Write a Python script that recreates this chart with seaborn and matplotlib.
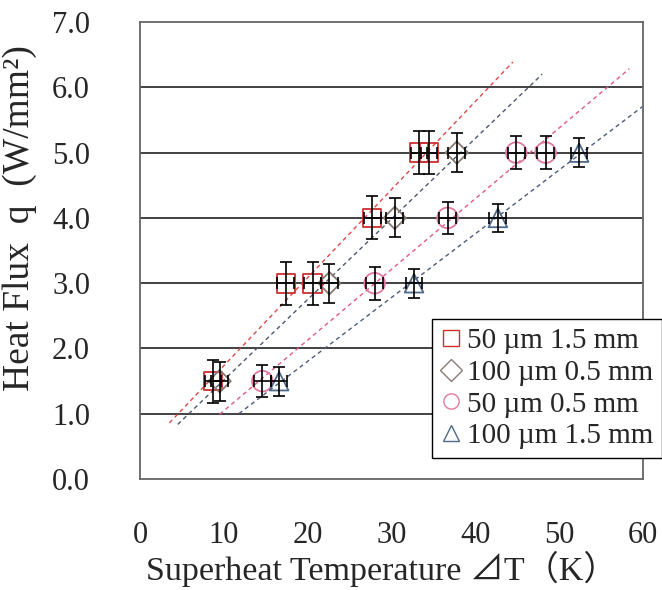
import numpy as np
import pandas as pd
import matplotlib
matplotlib.use("Agg")
import matplotlib.pyplot as plt
from matplotlib.lines import Line2D
import seaborn as sns

# data
labels = ["50 \u00b5m 1.5 mm", "100 \u00b5m 0.5 mm", "50 \u00b5m 0.5 mm", "100 \u00b5m 1.5 mm"]
markers = ["s", "D", "o", "^"]
marker_colors = ["#cc3030", "#8a7a72", "#e07aa2", "#4f6a88"]
trend_colors = ["#e04848", "#4c566e", "#e05a82", "#4c5c7a"]

sq_dt = [8.7, 17.4, 20.6, 27.7, 33.3, 34.5]
sq_q = [1.5, 3.0, 3.0, 4.0, 5.0, 5.0]
di_dt = [9.5, 22.6, 30.4, 37.8]
di_q = [1.5, 3.0, 4.0, 5.0]
ci_dt = [14.6, 28.0, 36.7, 44.9, 48.4]
ci_q = [1.5, 3.0, 4.0, 5.0, 5.0]
tr_dt = [16.6, 32.7, 42.7, 52.4]
tr_q = [1.5, 3.0, 4.0, 5.0]

q_err = [0.33, 0.30, 0.25, 0.22]
dt_err = [1.0, 1.0, 1.0, 1.0]
# x-extent of each dashed trend line
trend_range = [(3.5, 44.5), (4.5, 48.0), (9.5, 58.4), (11.8, 60.0)]

x_ticks = [0, 10, 20, 30, 40, 50, 60]
y_ticks = [0, 1, 2, 3, 4, 5, 6, 7]

series_x = [sq_dt, di_dt, ci_dt, tr_dt]
series_y = [sq_q, di_q, ci_q, tr_q]
marker_sizes = [180, 130, 220, 180]

sns.set_style("white")
plt.rcParams["font.family"] = ["Liberation Serif", "Noto Sans CJK JP"]

fig = plt.figure(figsize=(6.62, 5.9), dpi=100)
ax = fig.add_axes([0.2115, 0.188, 0.7595, 0.7747])

for i in range(4):
    x = np.array(series_x[i])
    y = np.array(series_y[i])
    slope, icpt = np.polyfit(x, y, 1)
    lo, hi = trend_range[i]
    tx = np.array([lo, hi])
    sns.lineplot(x=tx, y=slope * tx + icpt, ax=ax, color=trend_colors[i],
                 linestyle=(0, (3, 2.5)), linewidth=1.0, zorder=2)

for i in range(4):
    df = pd.DataFrame({"dt": series_x[i], "q": series_y[i]})
    sns.scatterplot(data=df, x="dt", y="q", ax=ax, marker=markers[i],
                    s=marker_sizes[i], color=marker_colors[i], linewidth=1.3,
                    zorder=3)
    coll = ax.collections[-1]
    coll.set_facecolor("none")
    coll.set_edgecolor(marker_colors[i])
    ax.errorbar(series_x[i], series_y[i], yerr=q_err[i], xerr=dt_err[i],
                fmt="none", ecolor="black", elinewidth=1.2, capsize=4,
                capthick=1.2, zorder=4)

ax.set_xlim(0, 60)
ax.set_ylim(0, 7)
ax.set_xticks(x_ticks)
ax.set_yticks(y_ticks)
ax.set_yticklabels([f"{v:.1f}" for v in y_ticks])
for v in y_ticks[1:-1]:
    ax.axhline(v, color="#333333", linewidth=1.3, zorder=1)

for s in ax.spines.values():
    s.set_color("#666666")
    s.set_linewidth(1.3)

ax.tick_params(axis="x", direction="in", length=7, width=1.2, color="#333333",
               pad=30, labelsize=22)
ax.tick_params(axis="y", length=0, pad=36, labelsize=22)

ax.set_xlabel("Superheat Temperature \u22bfT\uff08K\uff09", fontsize=24.5)
ax.set_ylabel("Heat Flux  q  (W/mm\u00b2)", fontsize=27)
ax.xaxis.set_label_coords(0.48, -0.197)
ax.xaxis.label.set_verticalalignment("center")
ax.yaxis.set_label_coords(-0.24, 0.57)
ax.yaxis.label.set_verticalalignment("center")

handles = [Line2D([], [], linestyle="none", marker=markers[i], markersize=11,
                  markerfacecolor="none", markeredgecolor=marker_colors[i],
                  markeredgewidth=1.0)
           for i in range(4)]
leg = ax.legend(handles, labels, loc="lower left", bbox_to_anchor=(0.5805, 0.046),
                borderaxespad=0, fontsize=21, frameon=True, fancybox=False,
                framealpha=1, edgecolor="black", handlelength=0.7,
                handletextpad=0.2, labelspacing=0.18, borderpad=0.3)
leg.get_frame().set_linewidth(1.0)

fig.savefig("out.png", dpi=100)
